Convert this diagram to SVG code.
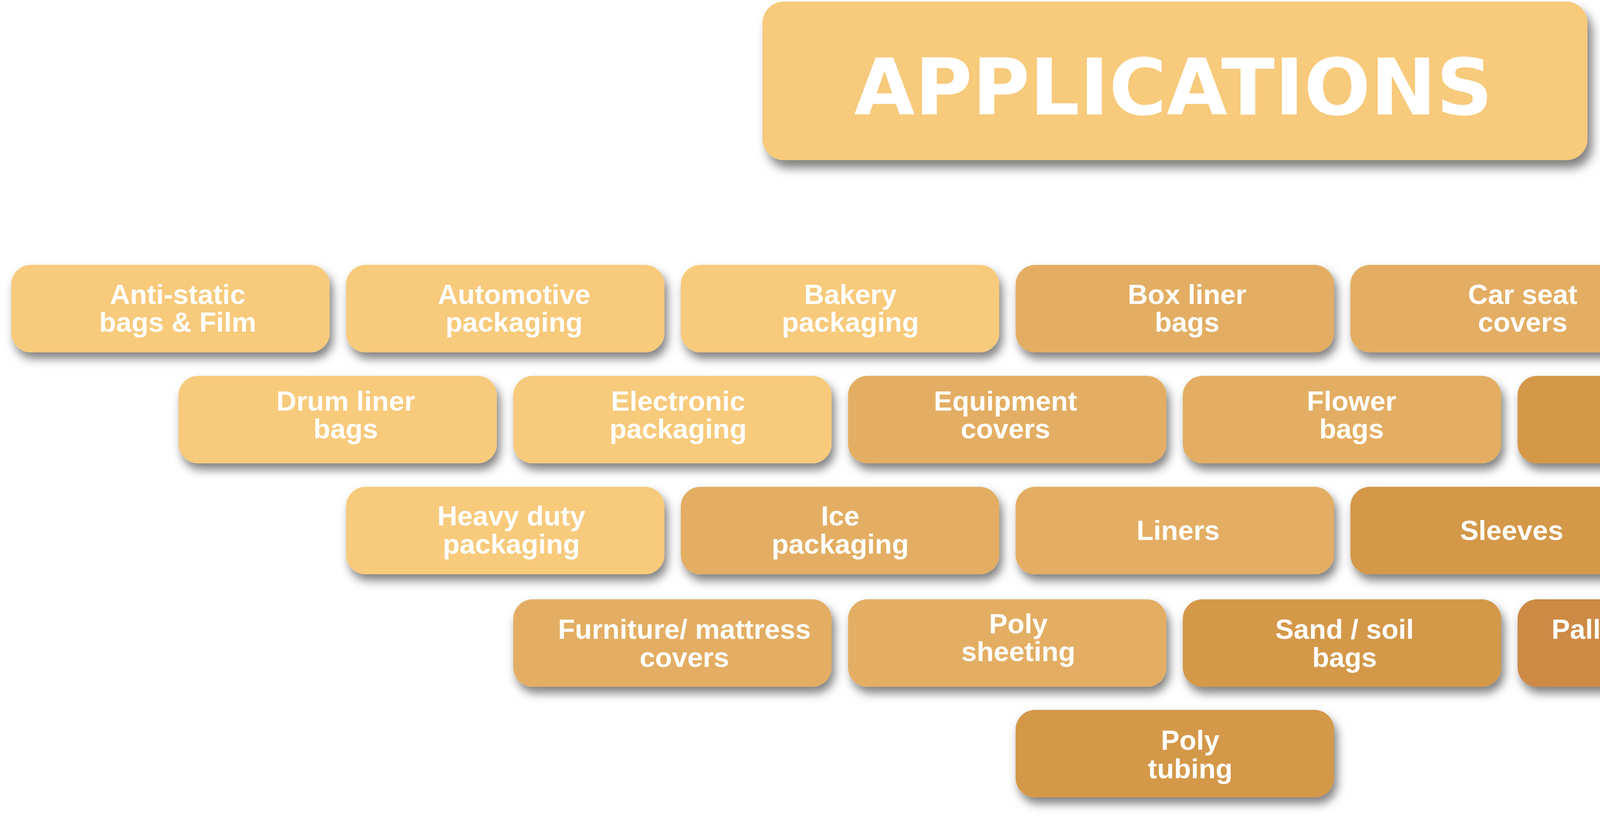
<svg xmlns="http://www.w3.org/2000/svg" width="6048" height="2104" viewBox="0 0 6048 2104">
<defs>
<filter id="sh" x="-10%" y="-20%" width="125%" height="160%">
<feDropShadow dx="8" dy="16" stdDeviation="12" flood-color="#000" flood-opacity="0.5"/>
</filter>
<filter id="sht" x="-10%" y="-20%" width="125%" height="150%">
<feDropShadow dx="12" dy="20" stdDeviation="13" flood-color="#000" flood-opacity="0.5"/>
</filter>
</defs>
<style>
.box{filter:url(#sh)}
.c1{fill:#F7CA7C}
.c2{fill:#E3AE64}
.c3{fill:#D4984A}
.c4{fill:#CD8A45}
.t{font-family:"Liberation Sans",Arial,sans-serif;font-weight:700;font-size:71px;fill:#FFFFFF;text-anchor:middle}
.title{font-family:"DejaVu Sans","Liberation Sans",sans-serif;font-weight:700;font-size:200px;fill:#FFFFFF;text-anchor:middle}
</style>
<rect width="6048" height="2104" fill="#FFFFFF"/>

<g id="title">
<rect x="1952" y="4" width="2112" height="406" rx="55" ry="55" class="c1" filter="url(#sht)"/>
<text class="title" x="3004" y="293" textLength="1635" lengthAdjust="spacingAndGlyphs">APPLICATIONS</text>
</g>

<!-- Row 1 -->
<g id="anti-static">
<rect class="box c1" x="29" y="678" width="815" height="224" rx="50"/>
<text class="t" x="455" y="778">Anti-static</text>
<text class="t" x="455" y="849">bags &amp; Film</text>
</g>
<g id="automotive">
<rect class="box c1" x="886" y="678" width="815" height="224" rx="50"/>
<text class="t" x="1316" y="778">Automotive</text>
<text class="t" x="1316" y="849">packaging</text>
</g>
<g id="bakery">
<rect class="box c1" x="1743" y="678" width="815" height="224" rx="50"/>
<text class="t" x="2177" y="778">Bakery</text>
<text class="t" x="2177" y="849">packaging</text>
</g>
<g id="box-liner">
<rect class="box c2" x="2600" y="678" width="815" height="224" rx="50"/>
<text class="t" x="3039" y="778">Box liner</text>
<text class="t" x="3039" y="849">bags</text>
</g>
<g id="car-seat">
<rect class="box c2" x="3457" y="678" width="815" height="224" rx="50"/>
<text class="t" x="3898" y="778">Car seat</text>
<text class="t" x="3898" y="849">covers</text>
</g>
<g id="construction">
<rect class="box c3" x="4314" y="678" width="815" height="224" rx="50"/>
<text class="t" x="4751" y="814">Construction</text>
</g>
<g id="hardware">
<rect class="box c3" x="5171" y="678" width="815" height="224" rx="50"/>
<text class="t" x="5617" y="778">Hardware</text>
<text class="t" x="5617" y="849">bags</text>
</g>

<!-- Row 2 -->
<g id="drum-liner">
<rect class="box c1" x="457" y="962" width="815" height="224" rx="50"/>
<text class="t" x="885" y="1051">Drum liner</text>
<text class="t" x="885" y="1122">bags</text>
</g>
<g id="electronic">
<rect class="box c1" x="1314" y="962" width="815" height="224" rx="50"/>
<text class="t" x="1736" y="1051">Electronic</text>
<text class="t" x="1736" y="1122">packaging</text>
</g>
<g id="equipment">
<rect class="box c2" x="2171" y="962" width="815" height="224" rx="50"/>
<text class="t" x="2574" y="1051">Equipment</text>
<text class="t" x="2574" y="1122">covers</text>
</g>
<g id="flower">
<rect class="box c2" x="3028" y="962" width="815" height="224" rx="50"/>
<text class="t" x="3460" y="1051">Flower</text>
<text class="t" x="3460" y="1122">bags</text>
</g>
<g id="gusseted">
<rect class="box c3" x="3885" y="962" width="815" height="224" rx="50"/>
<text class="t" x="4325" y="1051">Gusseted</text>
<text class="t" x="4325" y="1122">bags</text>
</g>
<g id="product">
<rect class="box c3" x="4742" y="962" width="815" height="224" rx="50"/>
<text class="t" x="5153" y="1073">Product</text>
<text class="t" x="5153" y="1145">bags</text>
</g>

<!-- Row 3 -->
<g id="heavy-duty">
<rect class="box c1" x="886" y="1246" width="815" height="224" rx="50"/>
<text class="t" x="1309" y="1345">Heavy duty</text>
<text class="t" x="1309" y="1417">packaging</text>
</g>
<g id="ice">
<rect class="box c2" x="1743" y="1246" width="815" height="224" rx="50"/>
<text class="t" x="2151" y="1345">Ice</text>
<text class="t" x="2151" y="1417">packaging</text>
</g>
<g id="liners">
<rect class="box c2" x="2600" y="1246" width="815" height="224" rx="50"/>
<text class="t" x="3016" y="1382">Liners</text>
</g>
<g id="sleeves">
<rect class="box c3" x="3457" y="1246" width="815" height="224" rx="50"/>
<text class="t" x="3870" y="1382">Sleeves</text>
</g>
<g id="sparepart">
<rect class="box c3" x="4314" y="1246" width="815" height="224" rx="50"/>
<text class="t" x="4724" y="1346">Sparepart</text>
<text class="t" x="4724" y="1418">packaging</text>
</g>

<!-- Row 4 -->
<g id="furniture">
<rect class="box c2" x="1314" y="1534" width="815" height="224" rx="50"/>
<text class="t" x="1752" y="1635">Furniture/ mattress</text>
<text class="t" x="1752" y="1707">covers</text>
</g>
<g id="poly-sheeting">
<rect class="box c2" x="2171" y="1534" width="815" height="224" rx="50"/>
<text class="t" x="2607" y="1621">Poly</text>
<text class="t" x="2607" y="1692">sheeting</text>
</g>
<g id="sand-soil">
<rect class="box c3" x="3028" y="1534" width="815" height="224" rx="50"/>
<text class="t" x="3442" y="1635">Sand / soil</text>
<text class="t" x="3442" y="1707">bags</text>
</g>
<g id="pallets">
<rect class="box c4" x="3885" y="1534" width="815" height="224" rx="50"/>
<text class="t" x="4288" y="1635" textLength="632" lengthAdjust="spacingAndGlyphs">Pallets wrapping &amp;</text>
<text class="t" x="4288" y="1707">unitizing</text>
</g>

<!-- Row 5 -->
<g id="poly-tubing">
<rect class="box c3" x="2600" y="1817" width="815" height="224" rx="50"/>
<text class="t" x="3047" y="1919">Poly</text>
<text class="t" x="3047" y="1992">tubing</text>
</g>
</svg>
